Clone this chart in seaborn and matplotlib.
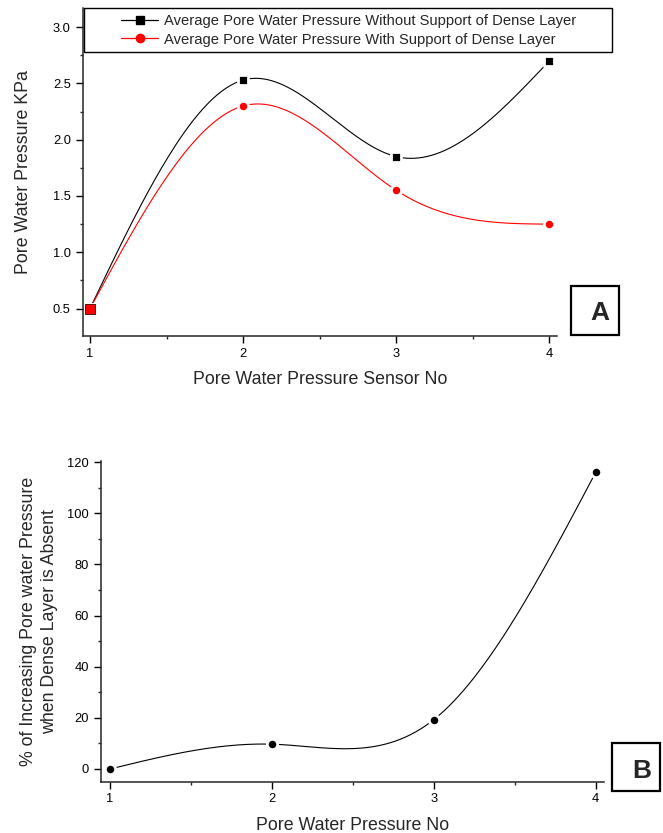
import numpy as np
import pandas as pd
import matplotlib
matplotlib.use("Agg")
import matplotlib.pyplot as plt
from matplotlib.lines import Line2D
from matplotlib.patches import Rectangle
from matplotlib.ticker import MultipleLocator
import seaborn as sns

# Panel A data
sensor_no = [1, 2, 3, 4]
pwp_without_dense = [0.50, 2.53, 1.85, 2.70]
pwp_with_dense = [0.50, 2.30, 1.55, 1.25]
label_without = "Average Pore Water Pressure Without Support of Dense Layer"
label_with = "Average Pore Water Pressure With Support of Dense Layer"

# Panel B data
pressure_no = [1, 2, 3, 4]
pct_increase = [0.0, 9.7, 19.3, 116.0]


def natural_spline(x, y, n=200):
    """Natural cubic spline through the given points (curve rendering only)."""
    x = np.asarray(x, float)
    y = np.asarray(y, float)
    k = len(x)
    h = np.diff(x)
    A = np.zeros((k, k))
    r = np.zeros(k)
    A[0, 0] = A[-1, -1] = 1
    for i in range(1, k - 1):
        A[i, i - 1] = h[i - 1]
        A[i, i] = 2 * (h[i - 1] + h[i])
        A[i, i + 1] = h[i]
        r[i] = 6 * ((y[i + 1] - y[i]) / h[i] - (y[i] - y[i - 1]) / h[i - 1])
    m = np.linalg.solve(A, r)
    xs = np.linspace(x[0], x[-1], n)
    idx = np.clip(np.searchsorted(x, xs) - 1, 0, k - 2)
    t0 = x[idx + 1] - xs
    t1 = xs - x[idx]
    hi = h[idx]
    ys = (m[idx] * t0 ** 3 + m[idx + 1] * t1 ** 3) / (6 * hi) \
        + (y[idx] / hi - m[idx] * hi / 6) * t0 \
        + (y[idx + 1] / hi - m[idx + 1] * hi / 6) * t1
    return pd.DataFrame({"x": xs, "y": ys})


def style_axis(ax):
    for side in ["top", "right"]:
        ax.spines[side].set_visible(False)
    for side in ["left", "bottom"]:
        ax.spines[side].set_linewidth(1.1)
    ax.tick_params(which="major", direction="out", length=5, width=1.0,
                   labelsize=9.3, pad=3.5, colors="black")
    ax.tick_params(which="minor", direction="out", length=2.5, width=1.0)


sns.set_style("ticks")
plt.rcParams["font.family"] = ["Liberation Sans", "DejaVu Sans"]

fig = plt.figure(figsize=(6.63, 8.33), dpi=100)
mk = dict(s=55, edgecolor="white", linewidth=2.0, zorder=5)

# ---- Panel A ----
ax1 = fig.add_axes([0.1247, 0.5966, 0.7159, 0.3938])
curve_black = natural_spline(sensor_no, pwp_without_dense)
curve_red = natural_spline(sensor_no, pwp_with_dense)
sns.lineplot(data=curve_black, x="x", y="y", ax=ax1, color="black", linewidth=0.8, sort=False)
sns.lineplot(data=curve_red, x="x", y="y", ax=ax1, color="red", linewidth=0.8, sort=False)
sns.scatterplot(x=sensor_no, y=pwp_without_dense, ax=ax1, marker="s", color="black", **mk)
sns.scatterplot(x=sensor_no[1:], y=pwp_with_dense[1:], ax=ax1, marker="o", color="red", **mk)
sns.scatterplot(x=sensor_no[:1], y=pwp_with_dense[:1], ax=ax1, marker="s", s=44,
                color="red", edgecolor="#400000", linewidth=0.6, zorder=6)
ax1.set_xlim(0.952, 4.052)
ax1.set_ylim(0.256, 3.17)
ax1.xaxis.set_major_locator(MultipleLocator(1))
ax1.xaxis.set_minor_locator(MultipleLocator(0.5))
ax1.yaxis.set_major_locator(MultipleLocator(0.5))
ax1.yaxis.set_minor_locator(MultipleLocator(0.25))
ax1.set_xlabel("Pore Water Pressure Sensor No", fontsize=12.8, labelpad=8)
ax1.set_ylabel("Pore Water Pressure KPa", fontsize=12.8, labelpad=15)
style_axis(ax1)

handles = [
    Line2D([0], [0], color="black", marker="s", markersize=6, linewidth=0.9),
    Line2D([0], [0], color="red", marker="o", markersize=6, linewidth=0.9),
]
leg = fig.legend(handles, [label_without, label_with], loc="center",
                 bbox_to_anchor=(0.5252, 0.9636), borderaxespad=0, fontsize=10.6,
                 frameon=False, handlelength=2.56, handletextpad=0.35,
                 borderpad=0, labelspacing=0.3)
fig.patches.append(Rectangle((0.1271, 0.9372), 0.7959, 0.0528, transform=fig.transFigure,
                             fill=True, facecolor="white", edgecolor="black",
                             linewidth=1.0, zorder=3))
leg.set_zorder(4)

# ---- Panel B ----
ax2 = fig.add_axes([0.1523, 0.0616, 0.7587, 0.385])
curve_b = natural_spline(pressure_no, pct_increase)
sns.lineplot(data=curve_b, x="x", y="y", ax=ax2, color="black", linewidth=0.8, sort=False)
sns.scatterplot(x=pressure_no, y=pct_increase, ax=ax2, marker="o", color="black", **mk)
ax2.set_xlim(0.944, 4.051)
ax2.set_ylim(-4.96, 120.4)
ax2.xaxis.set_major_locator(MultipleLocator(1))
ax2.xaxis.set_minor_locator(MultipleLocator(0.5))
ax2.yaxis.set_major_locator(MultipleLocator(20))
ax2.yaxis.set_minor_locator(MultipleLocator(10))
ax2.set_xlabel("Pore Water Pressure No", fontsize=12.8, labelpad=8)
ax2.set_ylabel("% of Increasing Pore water Pressure\nwhen Dense Layer is Absent",
               fontsize=12.8, labelpad=7, linespacing=1.3)
style_axis(ax2)

# Panel tags
for (x0, y0, w, h), (tx, ty), tag in [
    ((0.8608, 0.5982, 0.0733, 0.0585), (0.905, 0.6246), "A"),
    ((0.9226, 0.0504, 0.0733, 0.0580), (0.9679, 0.0748), "B"),
]:
    fig.patches.append(Rectangle((x0, y0), w, h, transform=fig.transFigure,
                                 fill=False, edgecolor="black", linewidth=1.6))
    fig.text(tx, ty, tag, ha="center", va="center", fontsize=19, fontweight="bold")

fig.savefig("out.png", dpi=100, facecolor="white")
plt.close(fig)
